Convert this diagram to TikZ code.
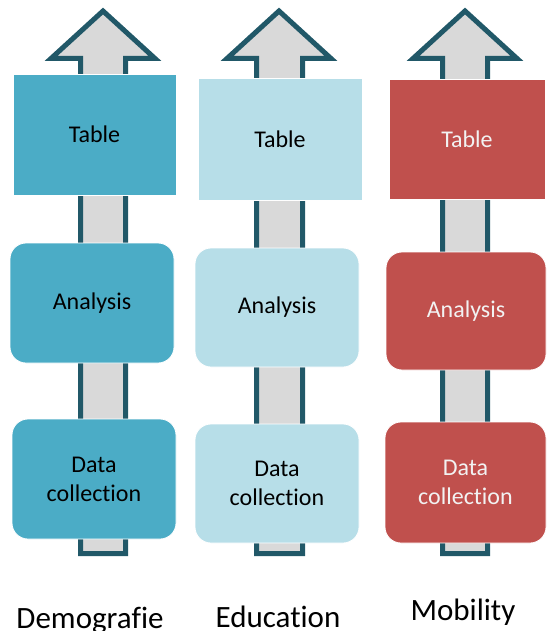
\documentclass[tikz,border=0pt]{standalone}
\usepackage{fontspec}
\setmainfont{Carlito}[Ligatures=NoCommon]
\usepackage{tikz}
\definecolor{arrowline}{HTML}{215868}
\definecolor{arrowfill}{HTML}{D9D9D9}
\definecolor{teal1}{HTML}{4BACC6}
\definecolor{teal2}{HTML}{B7DEE8}
\definecolor{brick}{HTML}{C0504D}
\definecolor{paletext}{HTML}{F2F2F2}

\begin{document}
\begin{tikzpicture}[x=1pt,y=-1pt,
        blockarrow/.style={draw=arrowline,fill=arrowfill,line width=5pt,line join=miter},
        tablebox/.style={rectangle,draw=white,line width=0.8pt,inner sep=0pt,outer sep=0pt,align=center,font=\fontsize{24}{29}\selectfont},
        stagebox/.style={tablebox,rounded corners=16pt},
        colname/.style={anchor=base,font=\fontsize{31}{34}\selectfont}]
        \useasboundingbox (0,0) rectangle (546,631);
        % block arrows behind the columns
        \draw[blockarrow] (103,11) -- (155,58.5) -- (125.5,58.5) -- (125.5,553.5) -- (80.5,553.5) -- (80.5,58.5) -- (51,58.5) -- cycle;
        \draw[blockarrow] (279,11) -- (331,58.5) -- (302.5,58.5) -- (302.5,553.5) -- (256.5,553.5) -- (256.5,58.5) -- (227,58.5) -- cycle;
        \draw[blockarrow] (465,11) -- (517,58.5) -- (487.5,58.5) -- (487.5,553.5) -- (442.5,553.5) -- (442.5,58.5) -- (413,58.5) -- cycle;
        % Demografie
        \node[tablebox,fill=teal1,minimum width=163pt,minimum height=121pt] (table1) at (94.5,134.5) {Table};
        \node[stagebox,fill=teal1,minimum width=164pt,minimum height=120pt] (analysis1) at (92,303) {Analysis};
        \node[stagebox,fill=teal1,minimum width=164pt,minimum height=120pt] (data1) at (94,479) {Data\\collection};
        \node[colname] (col1) at (90,628) {Demografie};
        % Education
        \node[tablebox,fill=teal2,minimum width=164pt,minimum height=122pt] (table2) at (280,139) {Table};
        \node[stagebox,fill=teal2,minimum width=164pt,minimum height=119pt] (analysis2) at (277,307.5) {Analysis};
        \node[stagebox,fill=teal2,minimum width=164pt,minimum height=119pt] (data2) at (277,483.5) {Data\\collection};
        \node[colname] (col2) at (278,627) {Education};
        % Mobility
        \node[tablebox,fill=brick,text=paletext,minimum width=156pt,minimum height=120pt] (table3) at (467,139) {Table};
        \node[stagebox,fill=brick,text=paletext,minimum width=160pt,minimum height=118pt] (analysis3) at (466,311) {Analysis};
        \node[stagebox,fill=brick,text=paletext,minimum width=161pt,minimum height=121pt] (data3) at (465.5,482.5) {Data\\collection};
        \node[colname] (col3) at (463,620) {Mobility};
    \end{tikzpicture}
\end{document}
